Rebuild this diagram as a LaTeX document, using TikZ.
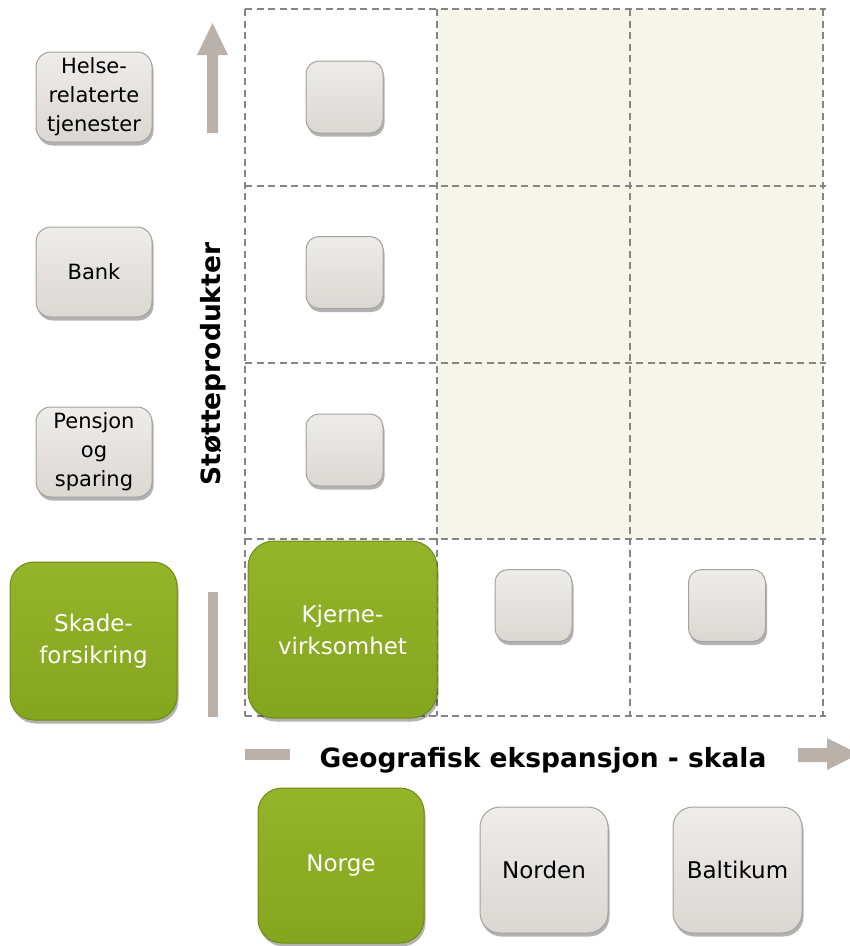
\documentclass[tikz,border=0pt]{standalone}
\usepackage{fontspec}
\setmainfont{DejaVu Sans}
\usetikzlibrary{shadows}
\definecolor{boxgray}{HTML}{DBD7D3}
\definecolor{boxhi}{HTML}{EEECE9}
\definecolor{boxrim}{HTML}{A5A19D}
\definecolor{grn}{HTML}{84A51E}
\definecolor{grnhi}{HTML}{94B42A}
\definecolor{grnrim}{HTML}{6E8C14}
\definecolor{arrowgray}{HTML}{B9B1AA}
\definecolor{gridgray}{HTML}{858585}
\definecolor{cellfill}{HTML}{F5F5E9}
\tikzset{
  base/.style={rectangle, inner sep=0pt, align=center,
    drop shadow={shadow xshift=1.5pt, shadow yshift=-3.5pt, opacity=0.3, fill=black}},
  graybox/.style={base, top color=boxhi, bottom color=boxgray, draw=boxrim, line width=1pt},
  greenbox/.style={base, top color=grnhi, bottom color=grn, draw=grnrim, line width=1pt, text=white},
  gridline/.style={draw=gridgray, line width=1.7pt, dash pattern=on 7pt off 4.5pt},
  lbl/.style={font=\fontsize{21}{29}\selectfont},
  bigl/.style={font=\fontsize{23}{32}\selectfont},
  axislbl/.style={font=\bfseries\fontsize{26.5}{30}\selectfont, inner sep=0pt}
}
\begin{document}
\begin{tikzpicture}[x=1pt,y=-1pt]
\useasboundingbox (0,0) rectangle (850,946);
\clip (0,0) rectangle (850,946);
% shaded cells
\fill[cellfill] (437,9) rectangle (823,539);
% grid
\foreach \yy in {9,186,363,539,716} \draw[gridline] (245,\yy) -- (826,\yy);
\foreach \xx in {245,437,630,823} \draw[gridline] (\xx,9) -- (\xx,716);
% arrows and bars
\fill[arrowgray] (207,133) -- (207,55) -- (197,55) -- (212.5,23) -- (228,55) -- (218,55) -- (218,133) -- cycle;
\fill[arrowgray] (208,592) rectangle (218,717);
\fill[arrowgray] (245,749) rectangle (290,760);
\fill[arrowgray] (798,748) -- (827,748) -- (827,738) -- (859,754) -- (827,770) -- (827,762) -- (798,762) -- cycle;
% axis labels
\node[axislbl, rotate=90] (yl) at (213,364) {Støtteprodukter};
\node[axislbl] (xl) at (543,760) {Geografisk ekspansjon - skala};
% left column
\node[graybox, lbl, rounded corners=15pt, minimum width=116pt, minimum height=90pt] (helse) at (94,97) {Helse-\\relaterte\\tjenester};
\node[graybox, lbl, rounded corners=15pt, minimum width=116pt, minimum height=90pt] (bank) at (94,272) {Bank};
\node[graybox, lbl, rounded corners=15pt, minimum width=116pt, minimum height=90pt] (pensjon) at (94,452) {Pensjon\\og\\sparing};
\node[greenbox, bigl, rounded corners=24pt, minimum width=167pt, minimum height=158pt] (skade) at (93.5,641) {Skade-\\forsikring};
% grid boxes
\node[graybox, rounded corners=13pt, minimum width=77pt, minimum height=72pt] (c13) at (344.5,97) {};
\node[graybox, rounded corners=13pt, minimum width=77pt, minimum height=72pt] (c12) at (344.5,272.5) {};
\node[graybox, rounded corners=13pt, minimum width=77pt, minimum height=72pt] (c11) at (344.5,450) {};
\node[graybox, rounded corners=13pt, minimum width=77pt, minimum height=72pt] (c20) at (533.5,605.5) {};
\node[graybox, rounded corners=13pt, minimum width=77pt, minimum height=72pt] (c30) at (727,605.5) {};
\node[greenbox, bigl, rounded corners=26pt, minimum width=189pt, minimum height=177pt] (kjerne) at (342.5,629.5) {Kjerne-\\virksomhet};
% bottom row
\node[greenbox, bigl, rounded corners=24pt, minimum width=166pt, minimum height=155pt] (norge) at (341,865.5) {Norge};
\node[graybox, bigl, rounded corners=20pt, minimum width=128pt, minimum height=126pt] (norden) at (544,870) {Norden};
\node[graybox, bigl, rounded corners=20pt, minimum width=129pt, minimum height=126pt] (baltikum) at (737.5,870) {Baltikum};
\end{tikzpicture}
\end{document}
